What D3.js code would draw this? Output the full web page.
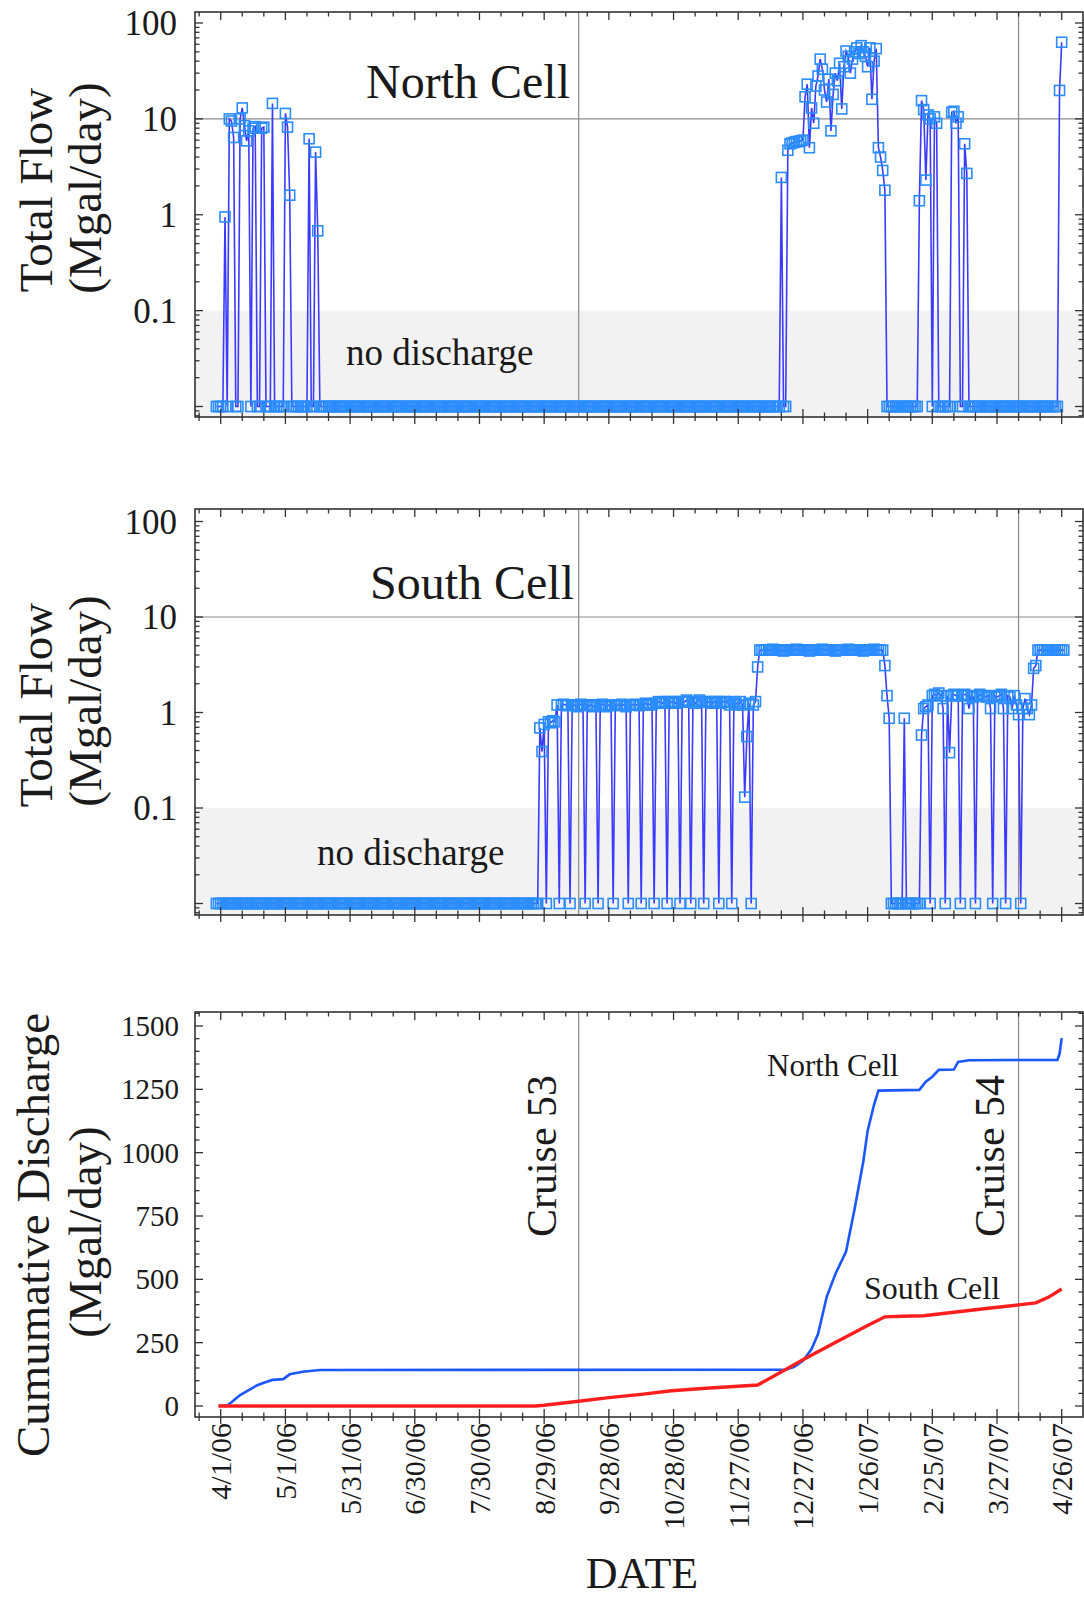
<!DOCTYPE html>
<html><head><meta charset="utf-8">
<script src="https://cdn.jsdelivr.net/npm/d3@7"></script>
<style>
body{margin:0;background:#fff;}
svg text{font-family:"Liberation Serif","Times New Roman",serif;fill:#1a1a1a;}
</style></head><body>
<svg id="c" width="1084" height="1604"></svg>
<script>
// ---------------- DATA ----------------
const tickLabels = ["4/1/06","5/1/06","5/31/06","6/30/06","7/30/06","8/29/06","9/28/06",
  "10/28/06","11/27/06","12/27/06","1/26/07","2/25/07","3/27/07","4/26/07"];
const cruiseDates = ["9/14/06","4/6/07"];
const cruiseNames = ["Cruise 53","Cruise 54"];
const logTickLabels = ["0.1","1","10","100"];
const cumTickValues = [0,250,500,750,1000,1250,1500];

// daily total flow (Mgal/day), one value per day starting 3/30/06; 0 = no discharge
const seriesStart = "3/30/06";
const northFlow = [
  0,0,
  // Apr 06
  0,0,0.95,0,10,9.5,6.4,0,0,10,
  13,8.5,5.9,7.5,0,8,8.3,0,0,8,
  8.2,0,0,0,14.5,0,0,0,0,0,
  // May
  11.4,8.2,1.6,0,0,0,0,0,0,0,
  0,6.2,0,0,4.5,0.68,0,0,0,0,
  0,0,0,0,0,0,0,0,0,0,
  0,
  // Jun
  0,0,0,0,0,0,0,0,0,0, 0,0,0,0,0,0,0,0,0,0, 0,0,0,0,0,0,0,0,0,0,
  // Jul
  0,0,0,0,0,0,0,0,0,0, 0,0,0,0,0,0,0,0,0,0, 0,0,0,0,0,0,0,0,0,0, 0,
  // Aug
  0,0,0,0,0,0,0,0,0,0, 0,0,0,0,0,0,0,0,0,0, 0,0,0,0,0,0,0,0,0,0, 0,
  // Sep
  0,0,0,0,0,0,0,0,0,0, 0,0,0,0,0,0,0,0,0,0, 0,0,0,0,0,0,0,0,0,0,
  // Oct
  0,0,0,0,0,0,0,0,0,0, 0,0,0,0,0,0,0,0,0,0, 0,0,0,0,0,0,0,0,0,0, 0,
  // Nov
  0,0,0,0,0,0,0,0,0,0, 0,0,0,0,0,0,0,0,0,0, 0,0,0,0,0,0,0,0,0,0,
  // Dec
  0,0,0,0,0,0,0,0,0,0,
  0,0,0,0,0,0,2.45,0,0,4.7,
  5.5,5.6,5.7,5.8,5.8,5.9,6.0,17,23,5.0,
  13,
  // Jan 07
  9,22,28,42,33,20,15,26,7.5,18,
  30,25,38,12.7,35,51,45,30,42,50,
  55,48,58,50,45,35,55,16,40,54,
  5.0,
  // Feb
  4.0,2.9,1.8,0,0,0,0,0,0,0,
  0,0,0,0,0,0,0,0,1.4,15.5,
  12.5,2.3,11,10,0,10.5,9,0,
  // Mar
  0,0,0,0,0,11.7,12,9,10.5,0,
  0,5.5,2.7,0,0,0,0,0,0,0,
  0,0,0,0,0,0,0,0,0,0,
  0,
  // Apr 07
  0,0,0,0,0,0,0,0,0,0, 0,0,0,0,0,0,0,0,0,0, 0,0,0,0,19.8,63
];
const southFlow = [
  0,0,
  // Apr 06
  0,0,0,0,0,0,0,0,0,0, 0,0,0,0,0,0,0,0,0,0, 0,0,0,0,0,0,0,0,0,0,
  // May
  0,0,0,0,0,0,0,0,0,0, 0,0,0,0,0,0,0,0,0,0, 0,0,0,0,0,0,0,0,0,0, 0,
  // Jun
  0,0,0,0,0,0,0,0,0,0, 0,0,0,0,0,0,0,0,0,0, 0,0,0,0,0,0,0,0,0,0,
  // Jul
  0,0,0,0,0,0,0,0,0,0, 0,0,0,0,0,0,0,0,0,0, 0,0,0,0,0,0,0,0,0,0, 0,
  // Aug
  0,0,0,0,0,0,0,0,0,0, 0,0,0,0,0,0,0,0,0,0, 0,0,0,0,0,0,0.69,0.39,0.75,0,
  0.8,
  // Sep
  0.78,0.82,0.8,1.2,0,1.2,1.22,1.2,1.18,0,
  1.2,1.2,1.15,1.2,1.22,1.2,0,1.2,1.18,1.2,
  1.15,1.2,0,1.2,1.22,1.2,1.15,1.2,1.2,0,
  // Oct
  1.2,1.18,1.2,1.22,1.2,1.15,0,1.2,1.2,1.22,
  1.2,1.18,0,1.2,1.25,1.2,1.22,1.2,0,1.25,
  1.3,1.28,1.25,1.3,0,1.3,1.28,1.3,1.25,1.3,
  0,
  // Nov
  1.3,1.28,1.35,1.3,0,1.3,1.25,1.3,1.35,1.3,
  0,1.3,1.28,1.3,1.25,1.3,1.3,0,1.25,1.3,
  1.3,1.28,1.2,0,1.3,1.25,1.2,1.3,1.2,0.13,
  // Dec
  0.56,1.25,0,1.2,1.3,3.0,4.5,4.5,4.5,4.5,
  4.5,4.5,4.6,4.5,4.5,4.5,4.5,4.4,4.5,4.5,
  4.5,4.5,4.5,4.6,4.5,4.5,4.5,4.5,4.5,4.4,
  4.5,
  // Jan 07
  4.5,4.5,4.5,4.5,4.6,4.5,4.5,4.5,4.5,4.5,
  4.4,4.5,4.5,4.5,4.5,4.5,4.6,4.5,4.5,4.5,
  4.5,4.5,4.5,4.4,4.5,4.5,4.5,4.5,4.6,4.5,
  4.5,
  // Feb
  4.5,4.5,3.1,1.5,0.87,0,0,0,0,0,
  0,0.87,0,0,0,0,0,0,0,0.58,
  1.1,1.15,1.2,0,1.5,1.55,1.5,1.6,
  // Mar
  1.5,1.1,0,1.5,0.38,1.5,1.55,1.5,1.5,0,
  1.5,1.55,1.5,1.1,1.5,1.45,0,1.5,1.55,1.5,
  1.5,1.45,1.5,1.1,0,1.5,1.45,1.5,1.55,1.1,
  0,
  // Apr 07
  1.5,1.45,1.1,1.5,1.2,0.95,0,1.1,1.4,1.1,
  0.95,1.2,2.9,3.1,4.5,4.5,4.5,4.5,4.5,4.5,
  4.5,4.5,4.5,4.5,4.5,4.5,4.5
];

// cumulative discharge, read at breakpoints (days after 4/1/06)
const northCumDay = [-1,3,5,9,13,17,20,24,29,32,38,46,262,266,270,274,277,281,285,290,294,298,300,303,305,324,327,330,333,340,342,347,388,389,390];
const northCumVal = [0,2,15,43,63,82,92,103,106,125,135,142,143,155,178,225,284,430,520,610,780,965,1086,1190,1245,1248,1280,1300,1327,1328,1358,1365,1366,1390,1452];
const southCumDay = [-1,146,150,165,180,195,209,225,240,249,262,270,285,300,308,316,326,340,355,370,378,384,390];
const southCumVal = [0,0,3,18,33,46,60,70,78,83,144,183,251,318,352,354,356,370,385,399,407,430,462];

// ---------------- CHART ----------------
const svg = d3.select("#c");
svg.append("rect").attr("width",1084).attr("height",1604).attr("fill","#fff");
const parse = d3.utcParse("%m/%d/%y");
const t0 = parse(tickLabels[0]);
const tickDates = tickLabels.map(parse);
const L = 195, R = 1083;
const x = d3.scaleUtc().domain([tickDates[0], tickDates[tickDates.length-1]]).range([220.7, 1061.7]);
const NO_FLOW = 0.01;
const AX = "#333";

function xTicks(top, bottom){
  const g = svg.append("g").attr("stroke",AX).attr("stroke-width",1.3);
  for(let k=-2;k<=41;k++){
    const px = x(d3.utcDay.offset(t0, 10*k));
    if(px < L+1 || px > R-1) continue;
    const major = k%3===0;
    const len = major?8:4.5;
    g.append("line").attr("x1",px).attr("x2",px).attr("y1",top).attr("y2",top+len);
    g.append("line").attr("x1",px).attr("x2",px).attr("y1",bottom-len).attr("y2",bottom+(major?7:4));
  }
}
function yTick(g, py, major){
  const len = major?8:4.5;
  g.append("line").attr("x1",L).attr("x2",L+len).attr("y1",py).attr("y2",py);
  g.append("line").attr("x1",R-len).attr("x2",R).attr("y1",py).attr("y2",py);
}
function cruiseLines(top,bottom){
  cruiseDates.forEach(c=>{
    const px = x(parse(c));
    svg.append("line").attr("x1",px).attr("x2",px).attr("y1",top).attr("y2",bottom)
      .attr("stroke","#8a8a8a").attr("stroke-width",1.2);
  });
}
function frame(top,bottom){
  svg.append("rect").attr("x",L).attr("y",top).attr("width",R-L).attr("height",bottom-top)
    .attr("fill","none").attr("stroke",AX).attr("stroke-width",1.6);
}
function yTitle(lines, cx, cy, size){
  lines.forEach((t,i)=>{
    svg.append("text").attr("transform",`translate(${cx[i]},${cy[i]}) rotate(-90)`)
      .attr("text-anchor","middle").attr("font-size",size).text(t);
  });
}

const flowPanels = [
  {top:12, bottom:417, r:[406.5,23], data:northFlow, title:"North Cell", tx:468, ty:98, ndx:346, ndy:365, ly:[190,188]},
  {top:509, bottom:915, r:[903.5,521.5], data:southFlow, title:"South Cell", tx:472, ty:599, ndx:317, ndy:865, ly:[705,701]}
];
const s0 = parse(seriesStart);

flowPanels.forEach((p,pi)=>{
  const y = d3.scaleLog().domain([0.01,100]).range(p.r);
  const pts = p.data.map((v,i)=>({d:d3.utcDay.offset(s0,i), v: v>0?v:NO_FLOW}));
  svg.append("rect").attr("x",L).attr("y",y(0.1)).attr("width",R-L).attr("height",p.bottom-y(0.1))
    .attr("fill","#f2f2f2");
  svg.append("line").attr("x1",L).attr("x2",R).attr("y1",y(10)).attr("y2",y(10))
    .attr("stroke","#8a8a8a").attr("stroke-width",1.2);
  cruiseLines(p.top,p.bottom);
  const clipId = "clip"+pi;
  svg.append("clipPath").attr("id",clipId).append("rect")
    .attr("x",L).attr("y",p.top).attr("width",R-L).attr("height",p.bottom-p.top);
  const dg = svg.append("g").attr("clip-path",`url(#${clipId})`);
  dg.append("path").datum(pts)
    .attr("d", d3.line().x(d=>x(d.d)).y(d=>y(d.v)))
    .attr("fill","none").attr("stroke","#3b3bff").attr("stroke-width",1.6);
  dg.selectAll("rect.m").data(pts).enter().append("rect").attr("class","m")
    .attr("x",d=>x(d.d)-5).attr("y",d=>y(d.v)-5).attr("width",10).attr("height",10)
    .attr("fill","none").attr("stroke","#2a8cff").attr("stroke-width",1.6);
  frame(p.top,p.bottom);
  xTicks(p.top,p.bottom);
  const tg = svg.append("g").attr("stroke",AX).attr("stroke-width",1.3);
  for(let k=-3;k<=2;k++){
    for(let m=1;m<=9;m++){
      const v = m*Math.pow(10,k);
      const py = y(v);
      if(py < p.top+1 || py > p.bottom-1) continue;
      yTick(tg, py, m===1);
    }
  }
  logTickLabels.forEach(t=>{
    svg.append("text").attr("x",177).attr("y",y(+t)).attr("dy","0.35em")
      .attr("text-anchor","end").attr("font-size",35).text(t);
  });
  svg.append("text").attr("x",p.tx).attr("y",p.ty).attr("text-anchor","middle")
    .attr("font-size",48).text(p.title);
  svg.append("text").attr("x",p.ndx).attr("y",p.ndy).attr("font-size",37).text("no discharge");
  yTitle(["Total Flow","(Mgal/day)"],[52,101],p.ly,47);
});

// ---- cumulative panel ----
const c = {top:1012, bottom:1417};
const yc = d3.scaleLinear().domain([0,1500]).range([1406,1026]);
cruiseLines(c.top,c.bottom);
const cumLine = d3.line().x(d=>x(d.d)).y(d=>yc(d.v));
const nC = northCumDay.map((d,i)=>({d:d3.utcDay.offset(t0,d), v:northCumVal[i]}));
const sC = southCumDay.map((d,i)=>({d:d3.utcDay.offset(t0,d), v:southCumVal[i]}));
svg.append("path").datum(nC).attr("d",cumLine).attr("fill","none").attr("stroke","#1b57ff").attr("stroke-width",2.6);
svg.append("path").datum(sC).attr("d",cumLine).attr("fill","none").attr("stroke","#ff1e1e").attr("stroke-width",3.4);
frame(c.top,c.bottom);
xTicks(c.top,c.bottom);
const cg = svg.append("g").attr("stroke",AX).attr("stroke-width",1.3);
for(let v=0; v<=1550; v+=50){
  const py = yc(v);
  if(py < c.top+1) continue;
  yTick(cg, py, v%250===0);
}
cumTickValues.forEach(v=>{
  svg.append("text").attr("x",179).attr("y",yc(v)).attr("dy","0.35em")
    .attr("text-anchor","end").attr("font-size",29).text(v);
});
tickLabels.forEach((t,i)=>{
  svg.append("text").attr("transform",`translate(${x(tickDates[i])},1423) rotate(-90)`)
    .attr("text-anchor","end").attr("dy","0.35em").attr("font-size",30).text(t);
});
svg.append("text").attr("x",767).attr("y",1076).attr("font-size",31).text("North Cell");
svg.append("text").attr("x",864).attr("y",1299).attr("font-size",32).text("South Cell");
cruiseNames.forEach((n,i)=>{
  svg.append("text").attr("transform",`translate(${[556,1004][i]},1156) rotate(-90)`)
    .attr("text-anchor","middle").attr("font-size",42).text(n);
});
yTitle(["Cumumative Discharge","(Mgal/day)"],[49,101],[1235,1232],47);
svg.append("text").attr("x",642).attr("y",1588).attr("text-anchor","middle").attr("font-size",44).text("DATE");
</script>
</body></html>
